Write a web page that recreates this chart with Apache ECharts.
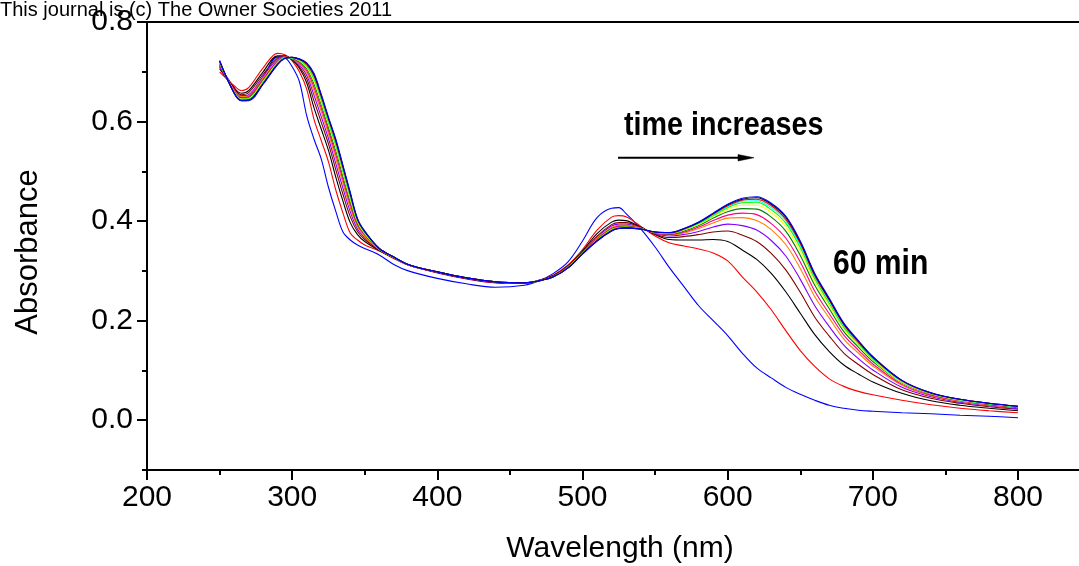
<!DOCTYPE html>
<html>
<head>
<meta charset="utf-8">
<script src="https://cdn.jsdelivr.net/npm/echarts@6/dist/echarts.min.js"></script>
<style>
html,body{margin:0;padding:0;background:#fff;}
#chart{width:1079px;height:566px;}
</style>
</head>
<body>
<div id="chart"></div>
<script>
// Wavelength grid (nm)
const wavelengths = [250,260,265,270,280,290,295,300,305,310,315,320,325,330,335,340,345,350,360,370,380,
  400,420,440,460,470,480,490,500,510,520,525,530,540,550,
  560,570,580,590,600,610,620,630,640,650,660,670,680,690,700,
  720,740,760,780,800];

// Absorbance spectra, in time order (first = initial, last = 60 min)
const spec00 = [.712,.668,.650,.652,.690,.730,.728,.710,.680,.612,.565,.525,.468,.420,.378,.362,.352,.345,.332,.313,.300,
  .285,.274,.267,.271,.280,.295,.318,.360,.407,.426,.427,.415,.385,.348,
  .306,.268,.230,.200,.170,.135,.105,.085,.066,.052,.040,.030,.024,.020,.018,
  .015,.013,.010,.008,.005];
const spec01 = [.700,.672,.662,.668,.708,.737,.734,.722,.700,.665,.605,.562,.519,.463,.416,.376,.362,.352,.340,.325,.312,
  .296,.284,.276,.275,.281,.292,.312,.343,.382,.408,.411,.409,.390,.370,
  .356,.350,.344,.336,.320,.288,.258,.222,.180,.140,.108,.083,.068,.058,.051,
  .040,.031,.024,.019,.015];
const spec02 = [.706,.668,.657,.662,.700,.732,.732,.724,.707,.678,.628,.585,.542,.489,.440,.397,.373,.359,.341,.326,.312,
  .297,.285,.277,.275,.281,.291,.310,.340,.375,.398,.402,.401,.388,.373,
  .363,.362,.362,.363,.359,.342,.323,.295,.258,.215,.172,.138,.111,.093,.077,
  .054,.039,.030,.024,.019];
const spec03 = [.709,.666,.654,.658,.695,.728,.731,.725,.710,.686,.642,.599,.555,.504,.454,.409,.379,.363,.342,.326,.312,
  .297,.285,.277,.276,.280,.290,.309,.338,.370,.393,.397,.397,.387,.374,
  .367,.369,.373,.378,.380,.372,.359,.335,.302,.257,.207,.169,.135,.112,.092,
  .061,.044,.034,.027,.022];
const spec04 = [.711,.664,.652,.654,.691,.726,.730,.726,.714,.693,.653,.610,.566,.516,.466,.419,.384,.367,.343,.327,.312,
  .297,.285,.277,.276,.280,.289,.308,.337,.368,.390,.394,.394,.386,.375,
  .370,.373,.379,.388,.394,.391,.382,.361,.330,.283,.230,.188,.151,.124,.101,
  .066,.047,.036,.029,.023];
const spec05 = [.714,.663,.650,.652,.688,.723,.730,.726,.716,.698,.662,.620,.575,.526,.476,.427,.389,.369,.343,.327,.312,
  .298,.286,.278,.276,.280,.289,.308,.336,.366,.387,.392,.392,.386,.376,
  .372,.376,.385,.396,.406,.407,.401,.383,.353,.305,.248,.205,.163,.135,.109,
  .070,.049,.038,.030,.025];
const spec06 = [.715,.662,.648,.650,.685,.722,.729,.727,.718,.702,.669,.627,.582,.534,.483,.433,.392,.372,.344,.327,.312,
  .298,.286,.278,.276,.280,.289,.307,.336,.364,.385,.390,.390,.385,.376,
  .373,.378,.388,.401,.412,.416,.413,.395,.366,.318,.259,.214,.171,.141,.113,
  .072,.050,.039,.031,.026];
const spec07 = [.717,.660,.647,.648,.683,.720,.729,.727,.720,.706,.676,.634,.588,.542,.490,.439,.395,.374,.344,.327,.313,
  .298,.286,.278,.276,.280,.289,.307,.335,.363,.384,.388,.389,.385,.377,
  .374,.380,.391,.406,.419,.425,.424,.408,.380,.331,.271,.224,.178,.147,.118,
  .075,.052,.040,.032,.026];
const spec08 = [.718,.660,.645,.646,.681,.719,.728,.728,.722,.709,.681,.639,.594,.548,.496,.444,.398,.375,.344,.327,.313,
  .298,.286,.278,.276,.280,.288,.307,.335,.362,.383,.387,.388,.385,.377,
  .375,.382,.393,.409,.424,.432,.432,.417,.389,.340,.278,.230,.184,.151,.121,
  .076,.053,.040,.033,.027];
const spec09 = [.719,.659,.644,.645,.679,.718,.728,.728,.723,.712,.686,.644,.598,.553,.500,.448,.400,.377,.344,.328,.313,
  .298,.286,.278,.276,.280,.288,.306,.335,.361,.382,.387,.387,.384,.378,
  .376,.383,.395,.411,.427,.437,.438,.423,.396,.347,.284,.235,.187,.154,.123,
  .078,.054,.041,.033,.027];
const spec10 = [.720,.658,.644,.644,.678,.717,.728,.728,.724,.714,.690,.648,.602,.557,.504,.451,.402,.378,.345,.328,.313,
  .298,.286,.278,.276,.280,.288,.306,.334,.361,.381,.386,.387,.384,.378,
  .376,.384,.396,.413,.429,.440,.441,.427,.401,.351,.288,.239,.190,.156,.125,
  .078,.054,.041,.033,.027];
const spec11 = [.721,.658,.643,.643,.677,.716,.727,.729,.725,.715,.692,.650,.605,.560,.507,.454,.403,.379,.345,.328,.313,
  .298,.286,.278,.276,.280,.288,.306,.334,.361,.381,.386,.387,.384,.378,
  .376,.384,.397,.414,.431,.442,.444,.431,.404,.355,.290,.241,.192,.157,.126,
  .079,.054,.042,.034,.028];
const spec12 = [.722,.657,.642,.643,.676,.715,.727,.729,.725,.717,.695,.653,.607,.563,.510,.456,.404,.379,.345,.328,.313,
  .298,.286,.278,.276,.280,.288,.306,.334,.360,.380,.385,.386,.384,.378,
  .377,.385,.397,.415,.433,.444,.447,.434,.408,.358,.293,.243,.194,.159,.127,
  .080,.055,.042,.034,.028];
const spec13 = [.722,.657,.642,.642,.675,.715,.727,.729,.726,.718,.697,.655,.609,.565,.512,.458,.405,.380,.345,.328,.313,
  .298,.286,.278,.276,.280,.288,.306,.334,.360,.380,.385,.386,.384,.378,
  .377,.385,.398,.416,.434,.446,.449,.436,.410,.360,.295,.245,.195,.160,.128,
  .080,.055,.042,.034,.028];

const spectra = [spec00,spec01,spec02,spec03,spec04,spec05,spec06,spec07,spec08,spec09,spec10,spec11,spec12,spec13];
const colors = ['#0000FF','#FF0000','#000000','#800000','#8000FF','#FF8000','#FF0080','#008000','#FFFF00','#00FF00','#00FFFF','#FF0000','#000000','#0000FF'];

const xMajorTicks = [200,300,400,500,600,700,800];
const xMinorTicks = [250,350,450,550,650,750];
const yMajorTicks = [0.0,0.2,0.4,0.6,0.8];

const FONT = '"Liberation Sans", Arial, Helvetica, sans-serif';

const chart = echarts.init(document.getElementById('chart'), null, {renderer:'canvas'});

const series = spectra.map((s, k) => ({
  type: 'line',
  xAxisIndex: 0,
  yAxisIndex: 0,
  data: wavelengths.map((w, i) => [w, s[i]]),
  showSymbol: false,
  smooth: 0.35,
  lineStyle: {color: colors[k], width: 1.1},
  itemStyle: {color: colors[k]},
  emphasis: {disabled: true},
  silent: true,
  z: 2 + k
}));

const black2 = {color:'#000', width:2};
const X_MIN = 200, X_MAX = 842;

chart.setOption({
  animation: false,
  backgroundColor: '#fff',
  grid: {left: 147, right: 0, top: 22, bottom: 96, containLabel: false, outerBoundsMode: 'none'},
  xAxis: [{
    type: 'value', min: X_MIN, max: X_MAX, position: 'bottom',
    axisLine: {show: true, onZero: false, lineStyle: black2},
    axisTick: {show: true, inside: false, length: 10, customValues: xMajorTicks, lineStyle: black2},
    splitLine: {show: false},
    axisLabel: {show: true, margin: 13, color: '#000', fontSize: 30, fontFamily: FONT,
      customValues: xMajorTicks, formatter: v => String(v)}
  },{
    type: 'value', min: X_MIN, max: X_MAX, position: 'bottom', offset: 0,
    axisLine: {show: false, onZero: false},
    axisTick: {show: true, inside: false, length: 5, customValues: xMinorTicks, lineStyle: black2},
    splitLine: {show: false},
    axisLabel: {show: false}
  },{
    type: 'value', min: X_MIN, max: X_MAX, position: 'top', offset: 0,
    axisLine: {show: true, onZero: false, lineStyle: black2},
    axisTick: {show: false},
    splitLine: {show: false},
    axisLabel: {show: false}
  }],
  yAxis: [{
    type: 'value', min: -0.1, max: 0.8, interval: 0.1,
    axisLine: {show: true, onZero: false, lineStyle: black2},
    axisTick: {show: true, inside: false, length: 5, lineStyle: black2},
    splitLine: {show: false},
    axisLabel: {show: false}
  },{
    type: 'value', min: -0.1, max: 0.8, position: 'left', offset: 0,
    axisLine: {show: false},
    axisTick: {show: true, inside: false, length: 10, customValues: yMajorTicks, lineStyle: black2},
    splitLine: {show: false},
    axisLabel: {show: true, margin: 14, color:'#000', fontSize: 30, fontFamily: FONT,
      customValues: yMajorTicks, formatter: v => v.toFixed(1)}
  }],
  series: series,
  graphic: [
    {type:'text', x: 0, y: 10.5, z: 100,
      style:{text:'This journal is (c) The Owner Societies 2011', font:'20px ' + FONT, fill:'#000',
        align:'left', verticalAlign:'middle', textAlign:'left', textVerticalAlign:'middle'}},
    {type:'text', x: 28, y: 252, rotation: Math.PI/2, z: 100,
      style:{text:'Absorbance', font:'31px ' + FONT, fill:'#000',
        align:'center', verticalAlign:'middle', textAlign:'center', textVerticalAlign:'middle'}},
    {type:'text', x: 620, y: 549, z: 100,
      style:{text:'Wavelength (nm)', font:'30px ' + FONT, fill:'#000',
        align:'center', verticalAlign:'middle', textAlign:'center', textVerticalAlign:'middle'}},
    {type:'text', x: 624, y: 126, scaleX: 0.87, z: 100,
      style:{text:'time increases', font:'bold 33px ' + FONT, fill:'#000',
        align:'left', verticalAlign:'middle', textAlign:'left', textVerticalAlign:'middle'}},
    {type:'text', x: 833, y: 264, scaleX: 0.86, z: 100,
      style:{text:'60 min', font:'bold 35px ' + FONT, fill:'#000',
        align:'left', verticalAlign:'middle', textAlign:'left', textVerticalAlign:'middle'}},
    {type:'line', z: 100, shape:{x1: 618, y1: 157.7, x2: 742, y2: 157.7},
      style:{stroke:'#000', lineWidth: 2}},
    {type:'polygon', z: 100, shape:{points:[[738,154.5],[754,157.7],[738,161]]},
      style:{fill:'#000', stroke:'#000', lineWidth: 0.5}}
  ]
});
</script>
</body>
</html>
